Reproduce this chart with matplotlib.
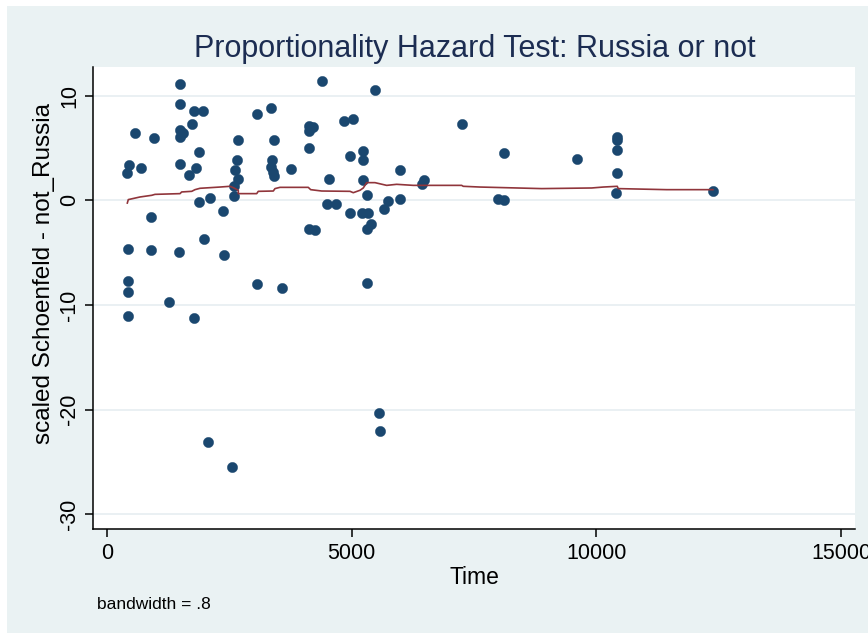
import numpy as np
import matplotlib
matplotlib.use("Agg")
import matplotlib.pyplot as plt
from matplotlib.patches import Rectangle

plt.rcParams['font.family'] = ['Liberation Sans', 'DejaVu Sans']

# scaled Schoenfeld residuals (time, residual)
time = [1497, 4402, 5484, 1497, 1789, 1960, 3075, 3349, 578, 966,
        1497, 1564, 1497, 1736, 2687, 3416, 4131, 4218, 4131, 4845,
        5023, 1885, 4131, 5239, 5239, 4968, 461, 408, 694, 1497,
        1817, 1680, 2667, 2620, 2687, 2605, 2599, 3369, 3349, 3402,
        3416, 3757, 4539, 5239, 5988, 5309, 1885, 2109, 898, 2368,
        4504, 4676, 4968, 5207, 5341, 5750, 5662, 5988, 4131, 4253,
        5390, 5309, 441, 898, 1476, 1987, 2395, 441, 441, 3075,
        3585, 5309, 1272, 441, 1789, 5560, 5580, 2074, 2552, 7995,
        8112, 6432, 6479, 7248, 8112, 9609, 10425, 10425, 10425, 10425,
        10399, 12379]
resid = [11.08, 11.39, 10.51, 9.17, 8.53, 8.53, 8.21, 8.85, 6.47, 5.99,
         6.69, 6.43, 6.05, 7.26, 5.80, 5.73, 7.07, 7.00, 6.59, 7.57,
         7.80, 4.65, 5.03, 4.71, 3.89, 4.23, 3.34, 2.61, 3.12, 3.44,
         3.08, 2.39, 3.89, 2.93, 2.07, 1.34, 0.38, 3.82, 3.18, 2.70,
         2.29, 3.03, 2.07, 1.91, 2.87, 0.54, -0.16, 0.26, -1.60, -1.02,
         -0.38, -0.32, -1.17, -1.17, -1.17, -0.07, -0.79, 0.16, -2.70, -2.80,
         -2.29, -2.70, -4.61, -4.78, -4.94, -3.66, -5.25, -7.71, -8.76, -7.96,
         -8.34, -7.86, -9.69, -11.05, -11.20, -20.37, -22.03, -23.08, -25.47, 0.16,
         0.00, 1.53, 1.91, 7.26, 4.56, 3.98, 6.05, 5.73, 4.84, 2.65,
         0.70, 0.89]

# smoothed curve (bandwidth .8)
smooth_t = [421, 441, 680, 919, 986, 1497, 1531, 1736, 1803, 1905,
            2109, 2313, 2517, 2585, 2687, 2687, 3063, 3095, 3402, 3436,
            3538, 4116, 4165, 4390, 4968, 5035, 5172, 5239, 5309, 5478,
            5717, 5921, 6260, 7248, 7281, 7622, 8132, 8882, 9903, 10139,
            10425, 10446, 11434, 12379]
smooth_y = [-0.26, 0.07, 0.32, 0.48, 0.57, 0.64, 0.80, 0.86, 1.02, 1.15,
            1.21, 1.27, 1.34, 1.21, 0.96, 0.64, 0.64, 0.86, 0.89, 1.12,
            1.24, 1.24, 1.02, 0.89, 0.86, 0.73, 0.96, 1.18, 1.69, 1.69,
            1.43, 1.53, 1.43, 1.43, 1.34, 1.27, 1.21, 1.12, 1.18, 1.27,
            1.34, 1.12, 1.02, 1.02]

xticks = [0, 5000, 10000, 15000]
yticks = [-30, -20, -10, 0, 10]

bg = '#EAF2F3'
W, H = 868, 635
fig = plt.figure(figsize=(W / 100, H / 100), dpi=100)
# graph region background (white page margin round it)
fig.patches.append(Rectangle((7 / W, 2 / H), 1, 627 / H, transform=fig.transFigure,
                             facecolor=bg, edgecolor='none', zorder=-10))

ax = fig.add_axes([92.7 / W, (H - 528.7) / H, (855 - 92.7) / W, (528.7 - 66.7) / H])
ax.set_zorder(1)
ax.set_facecolor('white')

for yt in yticks:
    ax.axhline(yt, color='#E8EFF2', lw=1.3, zorder=1)

ax.plot(time, resid, 'o', color='#1A476F', ms=7.4, mec='#1A476F', mew=0.3, zorder=3)
ax.plot(smooth_t, smooth_y, color='#90353B', lw=1.2, zorder=4)

ax.set_xlim(-286, 15280)
ax.set_ylim(-31.38, 12.77)
ax.set_xticks(xticks)
ax.set_yticks(yticks)
ax.set_xticklabels([str(v) for v in xticks], fontsize=15.5)
ax.set_yticklabels([str(v) for v in yticks], fontsize=15.5, rotation=90, va='center')
ax.tick_params(direction='out', length=5.5, width=1.1, color='black')
ax.tick_params(axis='x', pad=4.5)
ax.tick_params(axis='y', pad=3.5)

for s in ['top', 'right']:
    ax.spines[s].set_visible(False)
for s in ['left', 'bottom']:
    ax.spines[s].set_linewidth(1.1)
    ax.spines[s].set_color('black')

fig.text(475 / W, (H - 57) / H, 'Proportionality Hazard Test: Russia or not',
         ha='center', va='baseline', fontsize=22, color='#1C2D52')
fig.text(474 / W, (H - 584) / H, 'Time', ha='center', va='baseline', fontsize=16.5)
fig.text(44 / W, (H - 273.5) / H, 'scaled Schoenfeld - not_Russia', rotation=90,
         ha='center', va='center', fontsize=17.5)
fig.text(96.7 / W, (H - 609.3) / H, 'bandwidth = .8', ha='left', va='baseline', fontsize=12.5)

fig.savefig('out.png', dpi=100, facecolor='white')
